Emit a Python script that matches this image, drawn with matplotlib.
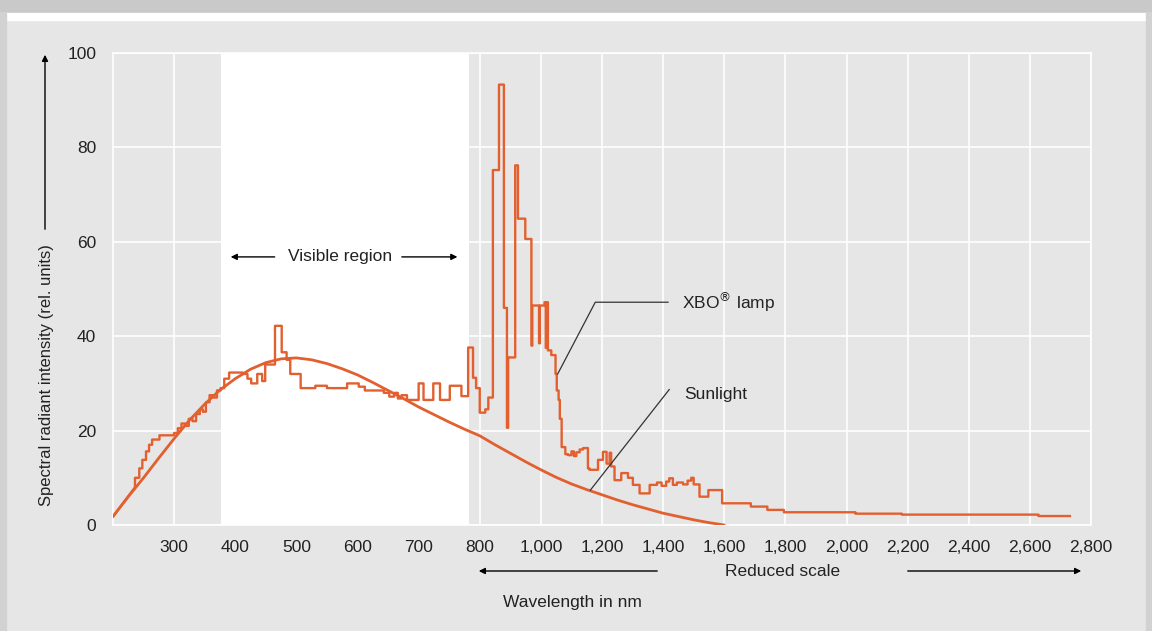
import numpy as np
import matplotlib
matplotlib.use('Agg')
import matplotlib.pyplot as plt
from matplotlib.patches import Rectangle, FancyArrowPatch

plt.rcParams['font.family'] = ['Liberation Sans', 'DejaVu Sans']

# Sunlight curve (nm, relative intensity)
sun_nm = [200, 225, 250, 275, 300, 325, 350, 375, 400, 425, 450, 475, 500, 525, 550,
          575, 600, 625, 650, 675, 700, 725, 750, 775, 800, 850, 900, 950, 1000, 1050,
          1100, 1150, 1200, 1250, 1300, 1350, 1400, 1450, 1500, 1550, 1600]
sun_val = [1.8, 6.0, 10.0, 14.2, 18.3, 22.2, 25.6, 28.6, 31.0, 33.0, 34.4, 35.2, 35.4,
           35.0, 34.2, 33.1, 31.8, 30.2, 28.5, 26.8, 25.0, 23.4, 21.8, 20.3, 18.9, 17.0,
           15.2, 13.4, 11.7, 10.1, 8.7, 7.5, 6.4, 5.3, 4.3, 3.4, 2.5, 1.8, 1.1, 0.5, 0.0]

# XBO lamp: initial ramp, then step levels starting at each edge
lamp_ramp_nm = [200, 236]
lamp_ramp_val = [1.8, 8.0]
lamp_edges = [236, 243, 248, 254, 259, 264, 276, 300, 306, 312, 318, 324, 330, 336,
              342, 347, 352, 358, 364, 370, 376, 382, 390, 412, 420, 426, 436, 444,
              449, 465, 476, 484, 490, 507, 531, 550, 583, 602, 612, 643, 652, 660,
              666, 672, 681, 700, 708, 724, 735, 751, 770, 781, 789, 794, 800, 818,
              828, 843, 863, 879, 889, 893, 916, 925, 949, 969, 972, 994, 997, 1012,
              1016, 1018, 1023, 1034, 1048, 1052, 1058, 1062, 1068, 1080, 1089, 1100,
              1108, 1116, 1127, 1138, 1154, 1159, 1187, 1203, 1215, 1225, 1230, 1241,
              1263, 1285, 1301, 1323, 1356, 1380, 1395, 1410, 1420, 1432, 1445, 1465,
              1480, 1492, 1500, 1519, 1548, 1593, 1687, 1741, 1795, 2029, 2181, 2628]
lamp_levels = [10.0, 12.0, 13.8, 15.6, 17.0, 18.1, 19.0, 19.5, 20.5, 21.5, 21.0, 22.5,
               22.0, 23.5, 24.5, 24.0, 26.0, 27.5, 27.0, 28.5, 29.0, 31.0, 32.3, 32.0,
               31.0, 30.0, 32.0, 30.5, 34.0, 42.2, 36.6, 35.0, 32.0, 29.0, 29.5, 29.0,
               30.0, 29.3, 28.5, 28.0, 27.2, 28.0, 26.8, 27.5, 26.5, 30.0, 26.5, 30.0,
               26.5, 29.5, 27.3, 37.6, 31.2, 29.0, 23.8, 24.5, 27.0, 75.2, 93.3, 46.0,
               20.6, 35.5, 76.2, 64.9, 60.6, 38.0, 46.5, 38.5, 46.5, 47.2, 37.5, 47.2,
               37.0, 36.0, 32.0, 28.5, 26.5, 22.5, 16.5, 15.0, 14.8, 15.6, 14.6, 15.4,
               16.0, 16.3, 12.0, 11.7, 13.8, 15.5, 13.0, 15.3, 12.4, 9.5, 11.0, 10.0,
               8.5, 6.7, 8.5, 9.0, 8.3, 9.2, 9.9, 8.5, 9.0, 8.6, 9.4, 10.0, 8.6, 6.0,
               7.4, 4.6, 3.9, 3.2, 2.7, 2.4, 2.2, 1.9]
lamp_end = 2731

x_ticks = [300, 400, 500, 600, 700, 800, 1000, 1200, 1400, 1600, 1800, 2000,
           2200, 2400, 2600, 2800]
y_ticks = [0, 20, 40, 60, 80, 100]
visible_nm = (376, 782)

line_color = '#e2602f'
text_color = '#222222'
bg = '#e6e6e6'


def fwd(x):
    # linear up to 800 nm, half scale beyond ("reduced scale")
    x = np.asarray(x, dtype=float)
    return np.where(x <= 800, x, 800 + (x - 800) / 2)


def inv(t):
    t = np.asarray(t, dtype=float)
    return np.where(t <= 800, t, 800 + 2 * (t - 800))


fig = plt.figure(figsize=(11.52, 6.31), dpi=100, facecolor=bg)

# frame / shadow decoration
fig.patches.append(Rectangle((0, 1 - 13 / 631), 1, 13 / 631, transform=fig.transFigure,
                             color='#c9c9c9', zorder=0))
fig.patches.append(Rectangle((0, 1 - 20 / 631), 1, 7 / 631, transform=fig.transFigure,
                             color='white', zorder=0))
fig.patches.append(Rectangle((0, 0), 6 / 1152, 1 - 13 / 631, transform=fig.transFigure,
                             color='#d2d2d2', zorder=0))
fig.patches.append(Rectangle((1 - 6 / 1152, 0), 6 / 1152, 1 - 13 / 631,
                             transform=fig.transFigure, color='#d2d2d2', zorder=0))

ax = fig.add_axes([113 / 1152, 1 - 525 / 631, (1091 - 113) / 1152, (525 - 53) / 631])
ax.set_facecolor(bg)
ax.set_xscale('function', functions=(fwd, inv))
ax.set_xlim(200, 2800)
ax.set_ylim(0, 100)

ax.set_axisbelow(True)
ax.grid(True, color='white', lw=1.2)
for s in ax.spines.values():
    s.set_color('white')
    s.set_linewidth(1.2)

ax.axvspan(*visible_nm, color='white', zorder=1, lw=0)

# sunlight
ax.plot(sun_nm, sun_val, color=line_color, lw=2, zorder=3,
        solid_capstyle='round', solid_joinstyle='round')

# lamp steps
sx = np.repeat(lamp_edges + [lamp_end], 2)[1:-1]
sy = np.repeat(lamp_levels, 2)
lx = np.r_[lamp_ramp_nm, sx]
ly = np.r_[lamp_ramp_val, sy]
ax.plot(lx, ly, color=line_color, lw=1.7, zorder=3)

ax.set_xticks(x_ticks)
ax.set_xticklabels([f'{v:,}' for v in x_ticks])
ax.set_yticks(y_ticks)
ax.tick_params(axis='both', length=0, labelsize=12.5, colors=text_color)
ax.tick_params(axis='x', pad=11)
ax.tick_params(axis='y', pad=12)
ax.minorticks_off()

# visible region label
ax.text(571, 56.8, 'Visible region', ha='center', va='center', fontsize=12.5, color=text_color)
arr = dict(arrowstyle='-|>', color='black', lw=1, mutation_scale=9)
ax.annotate('', xy=(388, 56.8), xytext=(469, 56.8), arrowprops=arr)
ax.annotate('', xy=(768, 56.8), xytext=(668, 56.8), arrowprops=arr)

# leader lines
ax.plot([1055, 1178, 1416], [32.0, 47.2, 47.2], color='#333333', lw=0.9, zorder=4)
ax.text(1462, 47.2, 'XBO$^{\\circledR}$ lamp', ha='left', va='center', fontsize=12.5,
        color=text_color)
ax.plot([1162, 1420], [7.4, 28.7], color='#333333', lw=0.9, zorder=4)
ax.text(1469, 27.7, 'Sunlight', ha='left', va='center', fontsize=12.5, color=text_color)

# y axis label with arrow
fig.text(47 / 1152, 1 - 375 / 631, 'Spectral radiant intensity (rel. units)',
         rotation=90, ha='center', va='center', fontsize=12, color=text_color)
fig.add_artist(FancyArrowPatch(
    (45 / 1152, 1 - 232 / 631), (45 / 1152, 1 - 52 / 631), transform=fig.transFigure,
    arrowstyle='-|>', mutation_scale=9, color='black', lw=1))

# x axis extras
fig.text(783 / 1152, 1 - 572 / 631, 'Reduced scale', ha='center', va='center',
         fontsize=12.5, color=text_color)
fig.text(572 / 1152, 1 - 603 / 631, 'Wavelength in nm', ha='center', va='center',
         fontsize=12.5, color=text_color)
fig.add_artist(FancyArrowPatch(
    (660 / 1152, 1 - 571 / 631), (476 / 1152, 1 - 571 / 631), transform=fig.transFigure,
    arrowstyle='-|>', mutation_scale=9, color='black', lw=1))
fig.add_artist(FancyArrowPatch(
    (905 / 1152, 1 - 571 / 631), (1084 / 1152, 1 - 571 / 631), transform=fig.transFigure,
    arrowstyle='-|>', mutation_scale=9, color='black', lw=1))

fig.savefig('out.png', dpi=100, facecolor=bg)
